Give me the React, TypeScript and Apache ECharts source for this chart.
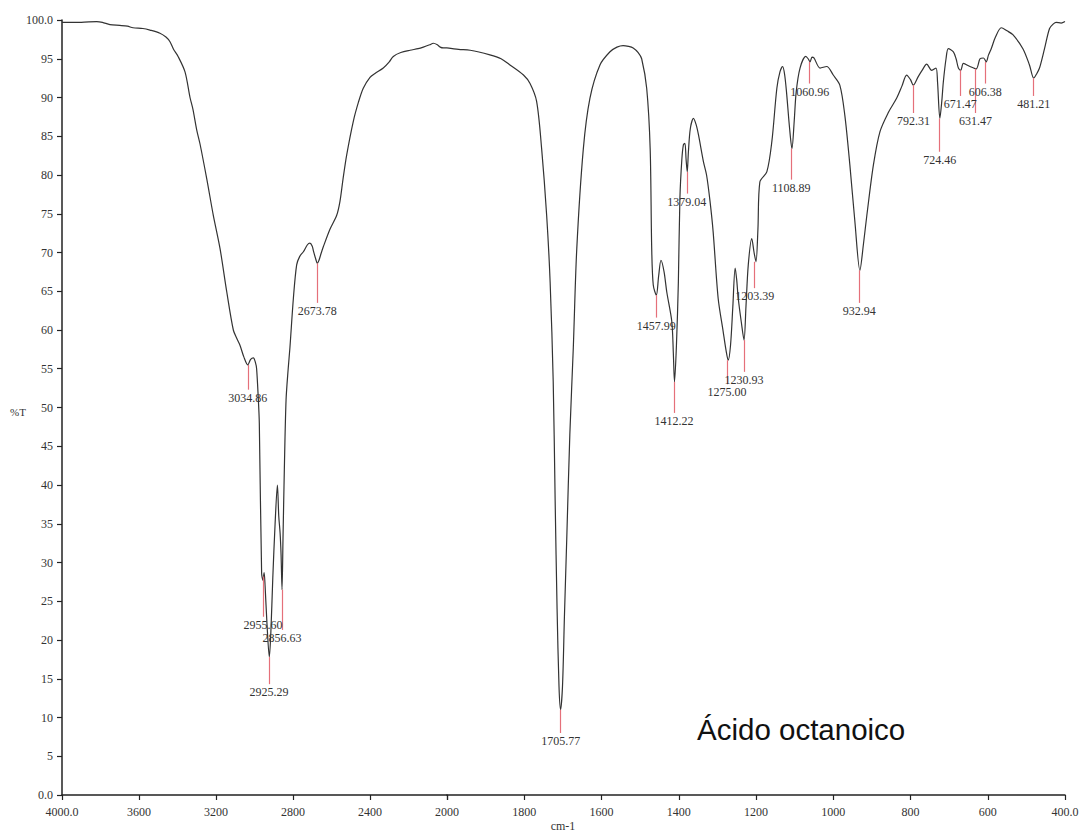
import React, { useEffect, useRef } from "react";
import * as echarts from "echarts";

// Spectrum, high-wavenumber part (cm-1, %T), 4000 → 2000
const spectrumHigh: [number, number][] = [
  [4000, 99.7], [3900, 99.7], [3820, 99.8], [3790, 99.7], [3751, 99.4], [3700, 99.3],
  [3660, 99.2], [3631, 99.0], [3580, 98.9], [3543, 98.7], [3491, 98.3], [3460, 97.8],
  [3439, 97.2], [3420, 96.2], [3397, 95.3], [3361, 93.3], [3335, 90.0], [3320, 88.5],
  [3300, 85.8], [3283, 84.0], [3248, 79.5], [3214, 74.8], [3179, 70.5], [3144, 64.9],
  [3110, 60.0], [3090, 58.8], [3075, 58.0], [3055, 56.5], [3035, 55.5], [3020, 56.2],
  [3006, 56.4], [2995, 55.8], [2989, 55.0], [2980, 51.0], [2975, 48.0], [2963, 28.6],
  [2956, 27.7], [2950, 28.7], [2945, 27.0], [2935, 22.0], [2923, 17.8], [2915, 21.0],
  [2905, 28.0], [2893, 35.0], [2881, 40.0], [2874, 36.0], [2867, 33.8], [2862, 31.0],
  [2857, 26.5], [2852, 33.0], [2845, 42.0], [2836, 51.0], [2825, 55.0], [2816, 57.7],
  [2798, 64.1], [2781, 68.4], [2765, 69.5], [2746, 70.1], [2725, 71.0], [2712, 71.2],
  [2700, 70.8], [2694, 70.2], [2680, 69.0], [2674, 68.6], [2665, 69.0], [2655, 69.8],
  [2643, 70.7], [2608, 73.0], [2573, 74.8], [2556, 76.6], [2540, 79.5], [2521, 82.6],
  [2487, 86.9], [2460, 89.4], [2435, 91.2], [2400, 92.6], [2374, 93.1], [2331, 93.8],
  [2300, 94.6], [2279, 95.3], [2240, 95.8], [2192, 96.1], [2150, 96.3], [2123, 96.5],
  [2090, 96.8], [2071, 97.0], [2050, 96.8], [2035, 96.5], [2019, 96.4], [2000, 96.4],
];

// Spectrum, low-wavenumber part (cm-1, %T), 2000 → 400
const spectrumLow: [number, number][] = [
  [2000, 96.4], [1970, 96.2], [1940, 96.1], [1889, 95.5], [1860, 95.0], [1837, 94.2],
  [1802, 92.9], [1785, 91.8], [1768, 89.5], [1755, 83.4], [1742, 74.8], [1733, 66.2],
  [1725, 53.3], [1720, 38.0], [1715, 24.0], [1710, 14.0], [1706, 11.0], [1701, 14.0],
  [1696, 23.0], [1690, 33.0], [1682, 46.5], [1673, 57.7], [1664, 70.5], [1647, 83.4],
  [1630, 89.9], [1604, 94.2], [1578, 95.9], [1560, 96.5], [1544, 96.7], [1530, 96.6],
  [1518, 96.4], [1505, 95.8], [1496, 95.0], [1483, 91.2], [1474, 83.4], [1470, 70.5],
  [1466, 65.8], [1458, 64.5], [1452, 67.0], [1446, 69.0], [1438, 67.5], [1431, 64.9],
  [1418, 61.1], [1414, 57.0], [1411, 53.3], [1406, 58.0], [1401, 66.2], [1397, 77.0],
  [1392, 82.0], [1388, 83.9], [1384, 84.1], [1381, 82.0], [1378, 80.4], [1375, 83.0],
  [1370, 86.0], [1362, 87.3], [1355, 86.5], [1349, 85.2], [1336, 81.7], [1328, 80.0],
  [1319, 76.6], [1311, 72.7], [1298, 64.1], [1285, 59.8], [1278, 57.5], [1272, 56.1],
  [1266, 58.0], [1260, 63.0], [1254, 68.0], [1250, 66.5], [1246, 64.1], [1238, 61.0],
  [1231, 58.7], [1226, 63.0], [1220, 68.4], [1211, 71.8], [1205, 70.0], [1200, 68.8],
  [1195, 73.0], [1190, 79.1], [1172, 80.4], [1159, 84.3], [1146, 91.2], [1138, 93.3],
  [1131, 94.0], [1126, 93.0], [1121, 90.7], [1113, 86.0], [1107, 83.4], [1101, 87.0],
  [1096, 90.7], [1086, 93.8], [1071, 95.3], [1065, 95.0], [1060, 94.6], [1055, 95.2],
  [1050, 95.1], [1034, 93.8], [1017, 94.0], [1000, 92.9], [983, 91.6], [970, 87.7],
  [957, 81.3], [944, 74.0], [931, 67.7], [922, 71.0], [913, 74.8], [896, 81.3],
  [879, 85.6], [857, 88.1], [836, 89.9], [822, 91.5], [810, 92.9], [800, 92.3],
  [793, 91.6], [780, 92.7], [770, 93.5], [758, 94.3], [745, 93.5], [734, 93.8],
  [730, 92.0], [724, 87.3], [719, 89.5], [715, 92.0], [708, 95.0], [702, 96.3],
  [689, 95.9], [682, 95.0], [676, 93.8], [670, 93.5], [663, 94.4], [646, 94.0],
  [630, 93.7], [620, 95.0], [611, 95.1], [604, 94.6], [598, 95.5], [591, 96.3],
  [580, 97.8], [565, 99.0], [550, 98.6], [535, 98.1], [509, 96.3], [492, 94.2],
  [481, 92.5], [474, 93.0], [466, 93.8], [453, 96.3], [440, 98.9], [430, 99.5],
  [423, 99.7], [410, 99.6], [400, 99.8],
];

// Peak picks: label, wavenumber, %T at the peak, %T at the marker's lower end
const peakLabels = [
  "3034.86", "2955.60", "2925.29", "2856.63", "2673.78", "1705.77", "1457.99",
  "1412.22", "1379.04", "1275.00", "1230.93", "1203.39", "1108.89", "1060.96",
  "932.94", "792.31", "724.46", "671.47", "631.47", "606.38", "481.21",
];
const peakWavenumbers = [
  3034.86, 2955.6, 2925.29, 2856.63, 2673.78, 1705.77, 1457.99,
  1412.22, 1379.04, 1275.0, 1230.93, 1203.39, 1108.89, 1060.96,
  932.94, 792.31, 724.46, 671.47, 631.47, 606.38, 481.21,
];
const peakTop = [
  55.5, 28.2, 17.8, 26.5, 68.6, 11.0, 64.5,
  53.3, 80.4, 56.1, 58.7, 68.8, 83.4, 94.6,
  67.7, 91.6, 87.3, 93.5, 93.7, 94.6, 92.5,
];
const peakEnd = [
  52.3, 23.0, 14.3, 21.3, 63.5, 8.0, 61.6,
  49.3, 77.6, 53.0, 54.6, 65.4, 79.4, 91.8,
  63.5, 88.0, 83.0, 90.2, 88.0, 91.8, 90.2,
];

const xTicksHigh = [4000, 3600, 3200, 2800, 2400, 2000];
const xTicksLow = [2000, 1800, 1600, 1400, 1200, 1000, 800, 600, 400];

const SERIF = "'Liberation Serif', 'DejaVu Serif', serif";

export default function App() {
  const ref = useRef<HTMLDivElement>(null);

  useEffect(() => {
    if (!ref.current) return;
    const chart = echarts.init(ref.current, undefined, { renderer: "svg" });

    const peaksFor = (hi: boolean) =>
      peakWavenumbers
        .map((w, i) => ({ w, i }))
        .filter(({ w }) => (hi ? w >= 2000 : w < 2000))
        .map(({ w, i }) => [
          { name: peakLabels[i], coord: [w, peakTop[i]] },
          { coord: [w, peakEnd[i]] },
        ]);

    const markLine = (hi: boolean) => ({
      silent: true,
      symbol: ["none", "none"],
      animation: false,
      lineStyle: { color: "#e5707a", width: 1.2, type: "solid" },
      label: {
        show: true,
        position: "end",
        distance: 2,
        formatter: "{b}",
        color: "#333",
        fontFamily: SERIF,
        fontSize: 12,
      },
      emphasis: { disabled: true },
      data: peaksFor(hi),
    });

    const axisCommon = {
      axisLine: { show: true, lineStyle: { color: "#222", width: 1.5 } },
      axisTick: { show: true, length: 5, lineStyle: { color: "#222", width: 1.2 } },
      splitLine: { show: false },
    };

    const lineStyle = { color: "#333", width: 1.2 };

    chart.setOption({
      animation: false,
      backgroundColor: "#fff",
      grid: [
        { left: 62, top: 20, width: 385, height: 775 },
        { left: 447, top: 20, width: 618, height: 775 },
      ],
      xAxis: [
        {
          ...axisCommon,
          type: "value",
          gridIndex: 0,
          min: xTicksHigh[xTicksHigh.length - 1],
          max: xTicksHigh[0],
          interval: 400,
          inverse: true,
          axisLabel: {
            margin: 11,
            color: "#333",
            fontFamily: SERIF,
            fontSize: 12,
            formatter: (v: number) => (v === 4000 ? "4000.0" : String(v)),
          },
        },
        {
          ...axisCommon,
          type: "value",
          gridIndex: 1,
          min: xTicksLow[xTicksLow.length - 1],
          max: xTicksLow[0],
          interval: 200,
          inverse: true,
          axisLabel: {
            margin: 11,
            color: "#333",
            fontFamily: SERIF,
            fontSize: 12,
            formatter: (v: number) => (v === 2000 ? "" : v === 400 ? "400.0" : String(v)),
          },
        },
      ],
      yAxis: [
        {
          ...axisCommon,
          type: "value",
          gridIndex: 0,
          min: 0,
          max: 100,
          interval: 5,
          axisLabel: {
            margin: 9,
            color: "#333",
            fontFamily: SERIF,
            fontSize: 12,
            formatter: (v: number) => (v === 100 ? "100.0" : v === 0 ? "0.0" : String(v)),
          },
        },
        {
          type: "value",
          gridIndex: 1,
          min: 0,
          max: 100,
          show: false,
          splitLine: { show: false },
        },
      ],
      series: [
        {
          type: "line",
          xAxisIndex: 0,
          yAxisIndex: 0,
          data: spectrumHigh,
          showSymbol: false,
          symbol: "none",
          smooth: 0.3,
          lineStyle,
          z: 3,
          markLine: markLine(true),
        },
        {
          type: "line",
          xAxisIndex: 1,
          yAxisIndex: 1,
          data: spectrumLow,
          showSymbol: false,
          symbol: "none",
          smooth: 0.3,
          lineStyle,
          z: 3,
          markLine: markLine(false),
        },
      ],
      graphic: [
        {
          type: "text",
          left: 10,
          top: 406,
          style: { text: "%T", font: `11px ${SERIF}`, fill: "#333" },
        },
        {
          type: "text",
          x: 563,
          y: 826,
          style: {
            text: "cm-1",
            font: `12px ${SERIF}`,
            fill: "#333",
            textAlign: "center",
            textVerticalAlign: "middle",
          },
        },
        {
          type: "text",
          x: 697,
          y: 729,
          style: {
            text: "Ácido octanoico",
            font: `29.5px 'Liberation Sans', Arial, sans-serif`,
            fill: "#111",
            textAlign: "left",
            textVerticalAlign: "middle",
          },
        },
      ],
    });

    return () => chart.dispose();
  }, []);

  return (
    <div
      ref={ref}
      style={{ position: "absolute", left: 0, top: 0, width: 1083, height: 832 }}
    />
  );
}
